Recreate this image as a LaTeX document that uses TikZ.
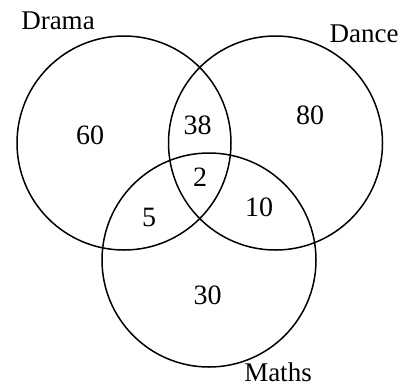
\documentclass[tikz,border=0pt]{standalone}
\usepackage{fontspec}
\setmainfont{Liberation Serif}
\begin{document}
\begin{tikzpicture}[x=1pt,y=-1pt,
  setcircle/.style={draw=black,line width=1.5pt},
  num/.style={font=\fontsize{28}{30}\selectfont,inner sep=0pt},
  setlabel/.style={font=\fontsize{27}{29}\selectfont,inner sep=0pt}]
\useasboundingbox (0,0) rectangle (403,386);
\draw[setcircle] (124,143) circle[radius=107];
\draw[setcircle] (275.5,143) circle[radius=107];
\draw[setcircle] (209,260) circle[radius=107];
\node[setlabel] (ldrama) at (58,21) {Drama};
\node[setlabel] (ldance) at (364,34) {Dance};
\node[setlabel] (lmaths) at (278,372) {Maths};
\node[num] (n60) at (90,135) {60};
\node[num] (n38) at (197.5,125) {38};
\node[num] (n80) at (310,115) {80};
\node[num] (n2) at (200,177) {2};
\node[num] (n5) at (149,217) {5};
\node[num] (n10) at (259,207) {10};
\node[num] (n30) at (207.5,295) {30};
\end{tikzpicture}
\end{document}
